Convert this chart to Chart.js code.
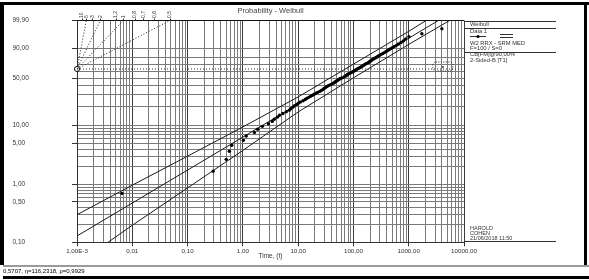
<!DOCTYPE html>
<html>
<head>
<meta charset="utf-8">
<script src="https://cdn.jsdelivr.net/npm/chart.js@4.4.1/dist/chart.umd.min.js"></script>
<style>
  html, body { margin: 0; padding: 0; background: #fff; }
</style>
</head>
<body>
<canvas id="weibullChart" width="589" height="280"></canvas>
<script>
// Data 1: failure times and median ranks (%)
let failTimes = [
  0.0065, 0.29, 0.50, 0.57, 0.63, 1.02, 1.15, 1.62, 1.85, 2.25,
  2.9, 3.4, 3.7, 4.2, 4.6, 5.3, 6.1, 6.9, 7.4, 8.0,
  8.6, 9.4, 10.1, 11.0, 12.3, 13.4, 14.3, 15.5, 16.8, 18.2,
  19.5, 21.0, 22.6, 24.5, 26.2, 27.8, 29.1, 30.5, 32.0, 33.8,
  36.0, 38.6, 41.5, 44.2, 46.0, 48.0, 50.5, 52.6, 55.0, 58.3,
  62.4, 66.8, 70.2, 73.5, 76.0, 79.2, 83.0, 88.5, 94.0, 99.5,
  104, 108, 113, 118, 125, 132, 139, 145, 151, 158,
  166, 175, 185, 193, 201, 209, 218, 230, 244, 258,
  270, 284, 300, 318, 340, 362, 386, 410, 438, 470,
  505, 548, 600, 655, 725, 800, 880, 1010, 1730, 3980
];
let unreliability = [
  0.70, 1.69, 2.69, 3.69, 4.68, 5.68, 6.67, 7.67, 8.67, 9.66,
  10.66, 11.65, 12.65, 13.65, 14.64, 15.64, 16.63, 17.63, 18.63, 19.62,
  20.62, 21.61, 22.61, 23.61, 24.60, 25.60, 26.59, 27.59, 28.59, 29.58,
  30.58, 31.57, 32.57, 33.57, 34.56, 35.56, 36.55, 37.55, 38.55, 39.54,
  40.54, 41.53, 42.53, 43.53, 44.52, 45.52, 46.51, 47.51, 48.51, 49.50,
  50.50, 51.49, 52.49, 53.49, 54.48, 55.48, 56.47, 57.47, 58.47, 59.46,
  60.46, 61.45, 62.45, 63.45, 64.44, 65.44, 66.43, 67.43, 68.43, 69.42,
  70.42, 71.41, 72.41, 73.41, 74.40, 75.40, 76.39, 77.39, 78.39, 79.38,
  80.38, 81.37, 82.37, 83.37, 84.36, 85.36, 86.35, 87.35, 88.35, 89.34,
  90.34, 91.33, 92.33, 93.33, 94.32, 95.32, 96.31, 97.31, 98.31, 99.30
];

// W2 RRX fit
let fitBeta = 0.5707;
let fitEta = 116.2318;
let fitRho = 0.9929;

// 2-sided 90% bounds (time, %)
let upperTimes = [0.001, 0.01, 0.1, 1, 10, 100, 1000, 2055];
let upperProb = [0.30, 0.97, 3.05, 9.45, 28.0, 70.3, 98.87, 99.9];
let lowerTimes = [0.00364, 0.01, 0.1, 1, 10, 100, 1000, 5470];
let lowerProb = [0.10, 0.197, 0.87, 3.82, 16.5, 50.5, 93.0, 99.9];

// slope indicator (beta values)
let slopeLabels = [10, 5, 3, 2, 1.2, 1, 0.8, 0.7, 0.6, 0.5];
let slopeLines = [5, 2, 1, 0.5];

// axis grid + labels
let probGrid = [0.1, 0.2, 0.3, 0.4, 0.5, 0.6, 0.7, 0.8, 0.9,
  1, 2, 3, 4, 5, 6, 7, 8, 9,
  10, 20, 30, 40, 50, 60, 70, 80, 90, 99.9];
let probLabelAt = [0.1, 0.5, 1, 5, 10, 50, 90, 99.9];
let probLabelText = ['0,10', '0,50', '1,00', '5,00', '10,00', '50,00', '90,00', '99,90'];
let timeDecades = [0.001, 0.01, 0.1, 1, 10, 100, 1000, 10000];
let timeLabelText = ['1,00E-3', '0,01', '0,10', '1,00', '10,00', '100,00', '1000,00', '10000,00'];

let etaLevel = 63.21;

// weibull probability paper transform
function wb(p) { return Math.log(-Math.log(1 - p / 100)); }
function fitTime(p) { return fitEta * Math.pow(-Math.log(1 - p / 100), 1 / fitBeta); }
function comma(v, d) { return v.toFixed(d).replace('.', ','); }

let timeGrid = [];
for (let d = 0; d < timeDecades.length - 1; d++) {
  for (let m = 1; m <= 9; m++) timeGrid.push(m * timeDecades[d]);
}
timeGrid.push(timeDecades[timeDecades.length - 1]);

function decadeIndex(v) {
  return timeDecades.findIndex(d => Math.abs(Math.log10(v) - Math.log10(d)) < 1e-6);
}
function probIndex(p) {
  return probLabelAt.findIndex(q => Math.abs(q - p) < 1e-9);
}

let lineSet = (pts, extra) => Object.assign({
  data: pts, showLine: true, borderColor: '#1a1a1a', borderWidth: 1,
  pointRadius: 0, tension: 0, fill: false
}, extra || {});

let datasets = [
  {
    label: 'Data 1',
    data: failTimes.map((t, i) => ({ x: t, y: wb(unreliability[i]) })),
    pointRadius: 1.7, pointBackgroundColor: '#000', pointBorderWidth: 0,
    showLine: false
  },
  lineSet([{ x: fitTime(0.1), y: wb(0.1) }, { x: fitTime(99.9), y: wb(99.9) }]),
  lineSet(upperTimes.map((t, i) => ({ x: t, y: wb(upperProb[i]) }))),
  lineSet(lowerTimes.map((t, i) => ({ x: t, y: wb(lowerProb[i]) }))),
  lineSet([{ x: 0.001, y: wb(etaLevel) }, { x: 10000, y: wb(etaLevel) }],
    { borderColor: '#333', borderDash: [1, 2] })
];
slopeLines.forEach(b => {
  datasets.push(lineSet([
    { x: 0.001, y: wb(etaLevel) },
    { x: 0.001 * Math.exp(wb(99.9) / b), y: wb(99.9) }
  ], { borderColor: '#222', borderDash: [1, 2] }));
});
datasets.push({
  data: [{ x: 0.001, y: wb(etaLevel) }],
  pointRadius: 2.5, pointBackgroundColor: '#fff', pointBorderColor: '#000',
  pointBorderWidth: 1, showLine: false, clip: false
});

let txtFont = 'Liberation Sans, Arial, sans-serif';

let decorPlugin = {
  id: 'decor',
  afterDraw(chart) {
    let c = chart.ctx, a = chart.chartArea;
    let xs = chart.scales.x, ys = chart.scales.y;
    c.save();

    // outer frame
    c.fillStyle = '#000';
    c.fillRect(0, 2, 589, 3);
    c.fillRect(0, 2, 4, 263);
    c.fillRect(584, 2, 3, 263);
    c.fillStyle = '#9a9a9a';
    c.fillRect(3, 265, 586, 2);
    c.fillStyle = '#000';
    c.fillRect(3, 276, 586, 3);

    // title
    c.fillStyle = '#444';
    c.font = '7.5px ' + txtFont;
    c.textAlign = 'center';
    c.textBaseline = 'middle';
    c.fillText('Probability - Weibull', (a.left + a.right) / 2, 11);

    // status line
    c.fillStyle = '#000';
    c.font = '6px ' + txtFont;
    c.textAlign = 'left';
    c.fillText(comma(fitBeta, 4) + ', \u03b7=' + comma(fitEta, 4) + ', \u03c1=' + comma(fitRho, 4), 3, 271);

    // legend box lines
    let lx = a.right + 6, rx = 556;
    c.strokeStyle = '#333';
    c.lineWidth = 1;
    [Math.round(a.top) + 0.5, 28.5, 52.5, Math.round(a.bottom) - 0.5].forEach(y => {
      c.beginPath(); c.moveTo(a.right, y); c.lineTo(rx, y); c.stroke();
    });

    c.fillStyle = '#333';
    c.font = '5.8px ' + txtFont;
    c.fillText('Weibull', lx, 24.5);
    c.fillText('Data 1', lx, 31);
    c.fillText('W2 RRX - SRM MED', lx, 43);
    c.fillText('F=100 / S=0', lx, 48.5);
    c.fillText('CB[FM]@90,00%', lx, 54.5);
    c.fillText('2-Sided-B [T1]', lx, 60.5);

    // legend symbols
    c.beginPath(); c.moveTo(lx, 36.5); c.lineTo(lx + 16, 36.5); c.stroke();
    c.fillStyle = '#000';
    c.beginPath(); c.arc(lx + 8, 36.5, 1.6, 0, Math.PI * 2); c.fill();
    c.beginPath();
    c.moveTo(lx + 30, 34.5); c.lineTo(lx + 43, 34.5);
    c.moveTo(lx + 30, 37.5); c.lineTo(lx + 43, 37.5);
    c.stroke();

    // user / date
    c.fillStyle = '#333';
    c.font = '5.5px ' + txtFont;
    c.fillText('HAROLD', lx, 228.5);
    c.fillText('COHEN', lx, 233.5);
    c.fillText('21/06/2018 11:50', lx, 238.5);

    // slope indicator labels
    let yTop = ys.getPixelForValue(wb(99.9));
    c.font = '5px ' + txtFont;
    c.fillStyle = '#333';
    slopeLabels.forEach(b => {
      let px = xs.getPixelForValue(0.001 * Math.exp(wb(99.9) / b));
      c.save();
      c.translate(px, yTop - 2.5);
      c.rotate(-Math.PI / 2);
      c.textAlign = 'left';
      c.textBaseline = 'middle';
      c.fillText(String(b).replace('.', ','), 0, 0);
      c.restore();
      c.beginPath(); c.moveTo(Math.round(px) + 0.5, yTop - 2); c.lineTo(Math.round(px) + 0.5, yTop); c.stroke();
    });

    // eta marker box
    let bx = xs.getPixelForValue(4150), by = ys.getPixelForValue(wb(etaLevel)) - 2.5;
    c.setLineDash([1, 1.5]);
    c.strokeStyle = '#222';
    c.beginPath();
    c.roundRect(bx - 10, by - 4.5, 20, 9, 3);
    c.stroke();
    c.setLineDash([]);
    c.fillStyle = '#222';
    c.beginPath(); c.arc(bx, by + 0.5, 0.9, 0, Math.PI * 2); c.fill();

    c.restore();
  }
};

let ctx = document.getElementById('weibullChart').getContext('2d');
let weibullChart = new Chart(ctx, {
  type: 'scatter',
  data: { datasets: datasets },
  options: {
    responsive: false,
    animation: false,
    devicePixelRatio: 1,
    layout: { padding: { top: 20.5, right: 125, bottom: 14, left: 12.5 } },
    plugins: { legend: { display: false }, tooltip: { enabled: false } },
    scales: {
      x: {
        type: 'logarithmic',
        min: 0.001,
        max: 10000,
        afterFit: s => { s.height = 23.7; },
        afterBuildTicks: s => { s.ticks = timeGrid.map(v => ({ value: v })); },
        ticks: {
          autoSkip: false, maxRotation: 0, padding: 1, color: '#333',
          font: { family: txtFont, size: 6.2 },
          callback: v => { let i = decadeIndex(v); return i >= 0 ? timeLabelText[i] : ''; }
        },
        grid: {
          tickLength: 4,
          color: c => (c.tick && decadeIndex(c.tick.value) >= 0) ? '#3c3c3c' : '#7a7a7a',
          tickColor: c => (c.tick && c.tick.label) ? '#333' : 'rgba(0,0,0,0)'
        },
        border: { color: '#333' },
        title: {
          display: true, text: 'Time, (t)', color: '#333',
          font: { family: txtFont, size: 6.5 },
          padding: { top: 0, bottom: 5.4 }
        }
      },
      y: {
        type: 'linear',
        min: wb(0.1),
        max: wb(99.9),
        afterFit: s => { s.width = 64.5; },
        afterBuildTicks: s => { s.ticks = probGrid.map(p => ({ value: wb(p) })); },
        ticks: {
          autoSkip: false, padding: 2, crossAlign: 'far', color: '#333',
          font: { family: txtFont, size: 6.5 },
          callback: (v, i) => { let k = probIndex(probGrid[i]); return k >= 0 ? probLabelText[k] : ''; }
        },
        grid: {
          tickLength: 5,
          color: c => (c.index === probGrid.length - 1) ? '#111' : '#7a7a7a',
          tickColor: c => (c.tick && c.tick.label) ? '#333' : 'rgba(0,0,0,0)'
        },
        border: { color: '#333' }
      }
    }
  },
  plugins: [decorPlugin]
});
</script>
</body>
</html>
